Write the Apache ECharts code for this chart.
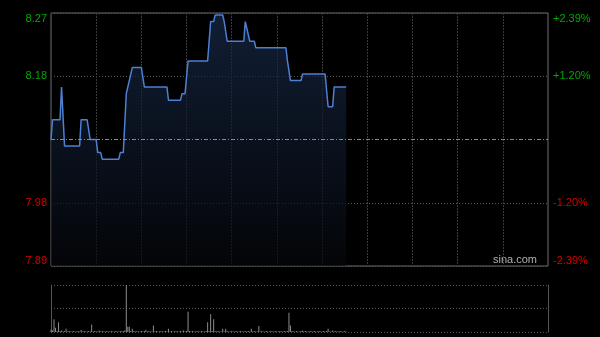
<!DOCTYPE html>
<html><head><meta charset="utf-8">
<script src="https://cdn.jsdelivr.net/npm/echarts@6/dist/echarts.min.js"></script>
<style>html,body{margin:0;padding:0;background:#000;}#c{width:600px;height:337px;}</style>
</head><body><div id="c"></div>
<script>
// ---- data ----
var prevClose = 8.08;
var rangePct = 2.39;
var sessionMinutes = 330; // HK session 9:30-12:00, 13:00-16:00
var priceMinutes = [0,1,6,7,9,19,20,24,26,30,31,33,34,45,46,48,50,51,53,54,60,62,77,78,86,87,89,91,104,106,108,109,114,115,117,128,129,130,132,135,136,156,157,159,166,167,182,184,187,188,196];
var prices =       [8.08,8.11,8.11,8.16,8.07,8.07,8.11,8.11,8.08,8.08,8.06,8.06,8.05,8.05,8.06,8.06,8.15,8.15,8.18,8.19,8.19,8.16,8.16,8.14,8.14,8.15,8.15,8.20,8.20,8.26,8.26,8.27,8.27,8.26,8.23,8.23,8.26,8.26,8.23,8.23,8.22,8.22,8.20,8.17,8.17,8.18,8.18,8.13,8.13,8.16,8.16];
var volumes = [5,3,27,9,2,21,2,3,1,2,7,1,2,1,1,2,1,1,2,1,4,1,2,1,1,2,1,16,1,2,1,1,3,1,2,1,1,2,1,1,2,1,1,2,1,1,2,1,2,3,
100,11,11,2,7,2,1,2,1,1,2,1,2,5,1,2,1,1,14,1,2,1,1,2,1,1,2,1,7,1,2,1,1,2,1,1,2,1,3,1,2,43,2,1,2,1,1,2,1,1,
2,1,1,2,21,2,38,2,27,2,1,2,1,1,7,1,7,2,1,1,2,1,1,2,1,1,2,1,1,2,1,2,1,7,1,2,1,1,13,1,2,1,1,2,1,1,2,1,1,2,
1,1,2,1,1,2,1,2,41,14,2,1,1,2,1,1,2,3,1,2,1,1,2,1,1,2,1,1,2,1,1,2,1,2,7,1,1,3,1,2,1,1,2,1,1,2,1];
var sourceText = 'sina.com';

// ---- build ----
var linePts = priceMinutes.map(function(m,i){ return [m, (prices[i]/prevClose - 1)*100]; });
var volPts = volumes.map(function(v,i){ return [i, v]; });
var volMax = Math.max.apply(null, volumes);
var step = rangePct/2;
var green = '#00a800', red = '#d40000';
var font = 'Arial, "Liberation Sans", sans-serif';
function colorFn(v){ return v > 0 ? green : (v < 0 ? red : '#888'); }

var chart = echarts.init(document.getElementById('c'), null, {renderer:'canvas'});
chart.setOption({
  backgroundColor: '#000',
  animation: false,
  grid: [
    {left:51, right:52, top:13, height:253, show:true, borderColor:'#6a6a6a', borderWidth:1, backgroundColor:'transparent'},
    {left:51, right:52, top:285, height:47, show:false}
  ],
  xAxis: [
    {type:'value', gridIndex:0, min:0, max:sessionMinutes, interval:30,
     axisLabel:{show:false}, axisTick:{show:false}, axisLine:{show:false},
     splitLine:{show:true, lineStyle:{color:'#3a3a3a', type:[2,1], width:1}}},
    {type:'value', gridIndex:1, min:0, max:sessionMinutes, interval:30,
     axisLabel:{show:false}, axisTick:{show:false}, axisLine:{show:false}, splitLine:{show:false}}
  ],
  yAxis: [
    {type:'value', gridIndex:0, position:'left', min:-rangePct, max:rangePct, interval:step,
     axisLine:{show:false}, axisTick:{show:false},
     axisLabel:{margin:4, fontSize:11, fontFamily:font, color:colorFn,
       verticalAlignMaxLabel:'top', verticalAlignMinLabel:'bottom',
       formatter:function(v){ return Math.abs(v) < 1e-9 ? '' : (prevClose*(1+v/100)).toFixed(2); }},
     splitLine:{show:true, lineStyle:{color:'#555', type:[1,2], width:1}}},
    {type:'value', gridIndex:0, position:'right', min:-rangePct, max:rangePct, interval:step,
     axisLine:{show:false}, axisTick:{show:false}, splitLine:{show:false},
     axisLabel:{margin:5, fontSize:11, fontFamily:font, color:colorFn,
       verticalAlignMaxLabel:'top', verticalAlignMinLabel:'bottom',
       formatter:function(v){ if (Math.abs(v) < 1e-9) return ''; return (v>0?'+':'') + v.toFixed(2) + '%'; }}},
    {type:'value', gridIndex:1, position:'left', min:0, max:volMax, interval:volMax/2,
     axisLabel:{show:false}, axisTick:{show:false},
     axisLine:{show:true, lineStyle:{color:'#555', width:1}},
     splitLine:{show:true, lineStyle:{color:'#555', type:[1,2], width:1}}},
    {type:'value', gridIndex:1, position:'right', min:0, max:volMax, interval:volMax/2,
     axisLabel:{show:false}, axisTick:{show:false},
     axisLine:{show:true, lineStyle:{color:'#555', width:1}}, splitLine:{show:false}}
  ],
  series: [
    {type:'line', xAxisIndex:0, yAxisIndex:0, data:linePts, symbol:'none', smooth:false,
     lineStyle:{color:'#4d7fd2', width:1.5},
     areaStyle:{origin:'start', color:new echarts.graphic.LinearGradient(0,0,0,1,[
        {offset:0, color:'#182a4a'},{offset:1, color:'#05070b'}])},
     markLine:{silent:true, symbol:'none', label:{show:false},
       lineStyle:{color:'#8a8a8a', type:[4,2,1,2], width:1},
       data:[{yAxis:0}]}},
    {type:'bar', xAxisIndex:1, yAxisIndex:2, data:volPts, barWidth:1,
     itemStyle:{color:'#8c8c8c'}}
  ],
  graphic: [
    {type:'text', right:63, top:254, style:{text:sourceText, fill:'#b0b0b0', font:'11px ' + font}}
  ]
});
</script></body></html>
